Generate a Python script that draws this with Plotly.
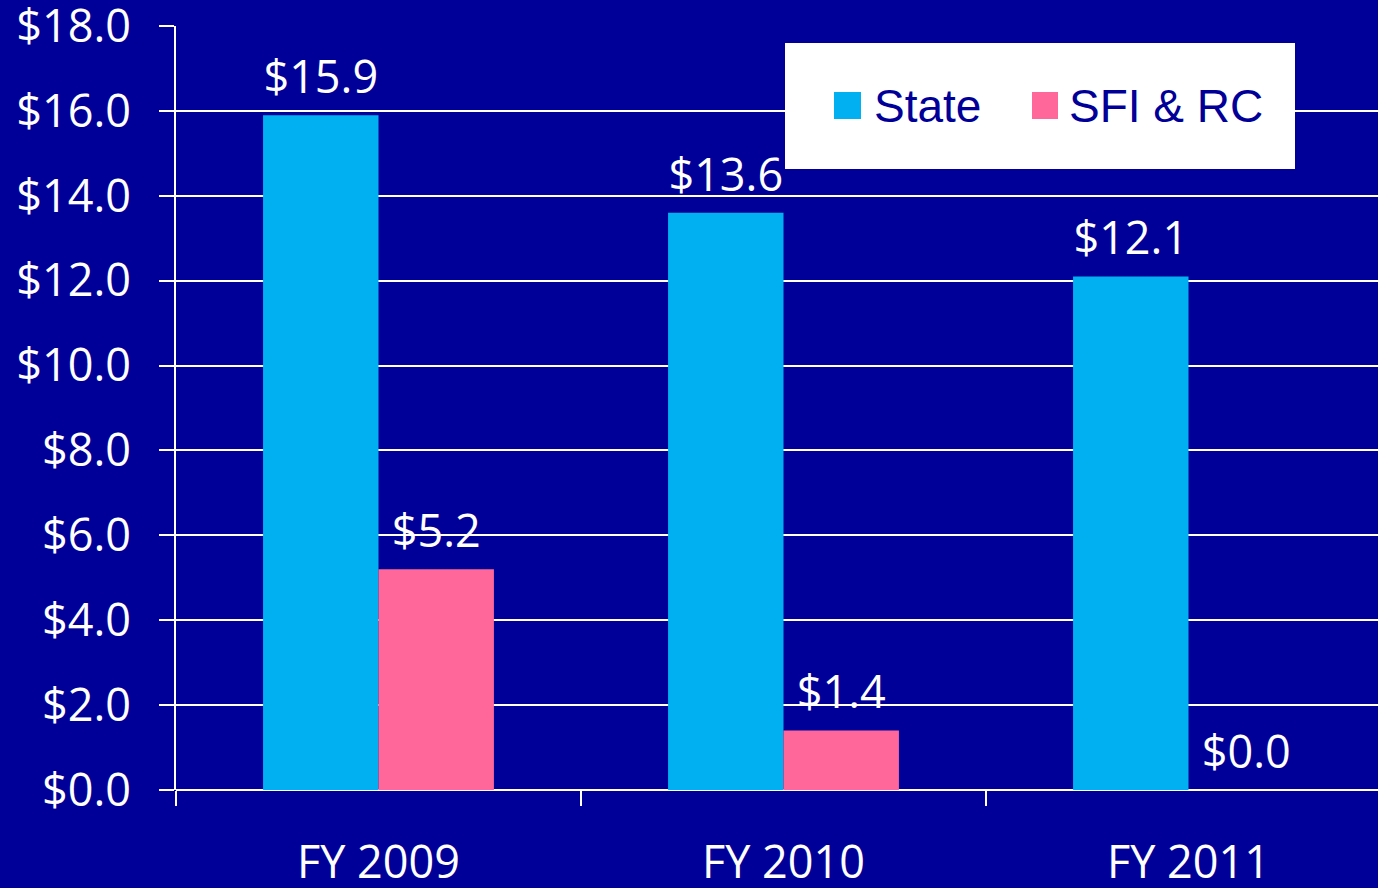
import plotly.graph_objects as go

categories = ["FY 2009", "FY 2010", "FY 2011"]
state_values = [15.9, 13.6, 12.1]
sfi_rc_values = [5.2, 1.4, 0.0]
series_names = ["State", "SFI & RC"]
y_ticks = [0, 2, 4, 6, 8, 10, 12, 14, 16, 18]
y_tick_labels = ["$%.1f" % v for v in y_ticks]

BG = "#000099"
CYAN = "#00B0F0"
PINK = "#FF6699"
FONT = "Open Sans, DejaVu Sans"
FS = 45

fig = go.Figure()
for i, (name, vals, col) in enumerate([(series_names[0], state_values, CYAN),
                                       (series_names[1], sfi_rc_values, PINK)]):
    fig.add_trace(go.Bar(
        x=categories, y=vals, name=name, marker=dict(color=col, line=dict(width=0)),
        offsetgroup=str(i), alignmentgroup="a", showlegend=False, hoverinfo="x+y+name",
    ))
    fig.add_trace(go.Scatter(
        x=categories, y=vals, name=name, mode="markers+text",
        marker=dict(size=16, color="rgba(0,0,0,0)"),
        text=["$%.1f" % v for v in vals], textposition="top center",
        textfont=dict(family=FONT, size=FS, color="white"),
        offsetgroup=str(i), alignmentgroup="a", cliponaxis=False,
        showlegend=False, hoverinfo="skip",
    ))

W, H = 1378, 888
L, R, T, B = 176, 0, 26, 98
pw, ph = W - L - R, H - T - B

def px(x):
    return (x - L) / pw

def py(y):
    return (H - B - y) / ph

shapes = [
    dict(type="rect", xref="paper", yref="paper", x0=px(785), x1=px(1295), y0=py(169), y1=py(43),
         fillcolor="white", line=dict(width=0), layer="above"),
    dict(type="rect", xref="paper", yref="paper", x0=px(834), x1=px(861), y0=py(119), y1=py(92),
         fillcolor=CYAN, line=dict(width=0), layer="above"),
    dict(type="rect", xref="paper", yref="paper", x0=px(1032), x1=px(1058), y0=py(119), y1=py(92),
         fillcolor=PINK, line=dict(width=0), layer="above"),
]
legend_font = dict(family="Liberation Sans, Arial", size=46, color=BG)
annotations = [
    dict(xref="paper", yref="paper", x=px(872), y=py(106), text=series_names[0], showarrow=False,
         xanchor="left", yanchor="middle", font=legend_font),
    dict(xref="paper", yref="paper", x=px(1067), y=py(106), text=series_names[1], showarrow=False,
         xanchor="left", yanchor="middle", font=legend_font),
]

fig.update_layout(
    width=W, height=H,
    margin=dict(l=L, r=R, t=T, b=B, autoexpand=False),
    paper_bgcolor=BG, plot_bgcolor=BG,
    barmode="group", bargap=0.43, bargroupgap=0,
    scattermode="group", scattergap=0.43,
    font=dict(family=FONT, color="white"),
    shapes=shapes, annotations=annotations,
    showlegend=False,
    xaxis=dict(
        type="category", range=[-0.5, -0.5 + pw / 405.0],
        showline=False, showgrid=False, zeroline=False,
        ticks="outside", tickson="boundaries", ticklen=15, tickwidth=2, tickcolor="white",
        tickfont=dict(family=FONT, size=FS, color="white"),
        ticklabelstandoff=42, automargin=False,
    ),
    yaxis=dict(
        range=[0, 18], tickvals=y_ticks, ticktext=y_tick_labels,
        showline=True, linecolor="white", linewidth=2,
        showgrid=True, gridcolor="white", gridwidth=2,
        zeroline=True, zerolinecolor="white", zerolinewidth=2,
        ticks="outside", ticklen=15, tickwidth=2, tickcolor="white",
        tickfont=dict(family=FONT, size=FS, color="white"),
        ticklabelstandoff=19, ticklabeloverflow="allow", automargin=False,
    ),
)

fig.write_html("out.html")
